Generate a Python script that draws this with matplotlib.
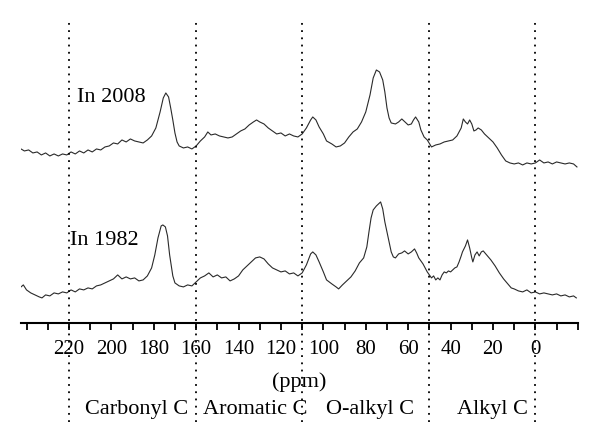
import numpy as np
import matplotlib
matplotlib.use("Agg")
import matplotlib.pyplot as plt

plt.rcParams['font.family'] = ['Liberation Serif', 'DejaVu Serif']

# spectrum: chemical shift (ppm) and signal (screen units, down = larger)
ppm_2008 = [242.6, 241, 239, 237, 235, 233, 231, 229, 227, 225, 223, 221, 219, 217, 215, 213, 211, 209, 207, 205,
            203, 201, 199, 197, 195, 193, 191, 189, 187, 185, 183, 181, 179, 177, 175.5, 174.3, 173, 172, 171, 170,
            169, 168, 166, 164, 162, 160, 158, 156, 154.5, 153, 151, 149, 147, 145, 143, 141, 139, 137, 135, 133,
            131.5, 130, 128, 126, 124, 122, 120, 118, 116, 114, 112, 110, 108, 106, 105, 103.5, 102, 100, 98.5, 96,
            94, 92, 90, 88, 86, 84, 82, 80, 78, 76.5, 75, 73.5, 72, 71, 70, 69, 68, 66, 64.5, 63,
            61.5, 60, 58.5, 57.5, 56.5, 55, 54, 52.5, 51, 49, 47, 45, 43, 41, 39, 37, 35, 34, 33, 32,
            31, 30, 29, 28, 27, 25.5, 24, 22, 20, 18, 16, 14, 12, 10, 8, 6, 4, 2, 0, -2,
            -4, -6, -8, -10, -12, -14, -16, -18, -19.6]
sig_2008 = [149, 151, 150, 153, 152, 155, 153, 156, 154, 156, 154, 155, 152, 154, 151, 153, 150, 152, 149, 150,
            147, 146, 143, 144, 140, 142, 139, 141, 142, 143, 140, 136, 128, 112, 98, 93, 97, 108, 120, 133,
            142, 146, 148, 147, 149, 146, 141, 137, 132, 135, 134, 136, 137, 138, 137, 134, 131, 129, 125, 122,
            120, 122, 124, 128, 131, 134, 133, 136, 134, 136, 137, 134, 128, 120, 117, 120, 127, 134, 141, 144,
            147, 146, 143, 137, 132, 129, 122, 112, 95, 78, 70, 72, 80, 92, 108, 118, 123, 124, 122, 119,
            122, 125, 124, 120, 117, 122, 130, 137, 140, 147, 145, 144, 142, 141, 140, 136, 128, 119, 122, 124,
            120, 124, 131, 130, 128, 130, 134, 138, 142, 148, 155, 161, 163, 164, 163, 165, 163, 164, 163, 160,
            163, 162, 164, 162, 163, 164, 163, 164, 167]

ppm_1982 = [242.6, 241.5, 240, 238, 236, 234, 232.7, 231, 229, 227, 225, 223, 221, 219, 217, 215, 213, 211, 209, 207,
            205, 203, 201, 199, 197, 195, 193, 191, 189, 187, 185, 183, 181, 179.5, 178, 176.5, 175.7, 174.5, 173.5, 172.5,
            171, 170, 168, 166, 164, 162, 160, 158, 156, 154, 152, 150, 148, 146, 144, 142, 140, 138, 136, 134,
            132, 130, 128, 126, 124, 122, 120, 118, 116, 114, 112, 110, 108, 106, 105, 103.5, 102, 100, 98.5, 96,
            94, 92.8, 91, 89, 87, 85, 83, 81, 79.5, 78.5, 77.5, 76.5, 75, 74, 73, 72, 71, 70, 69, 68,
            67, 66, 64.5, 63, 61.7, 60, 58.5, 57, 56, 55, 54, 53, 52, 51, 50, 49, 48, 47, 46, 45,
            44, 43, 42, 41, 40, 38, 37, 36, 35, 34.4, 33, 32, 31, 30, 29.5, 28.5, 27.5, 26.5, 25.5, 24.6,
            23, 21, 19, 17, 15, 13, 11.4, 10, 8, 6, 4, 2, 0, -2, -4, -6, -8, -10, -12, -14,
            -16, -18, -19.3]
sig_1982 = [287, 285, 290, 293, 295, 297, 298, 295, 296, 293, 294, 292, 293, 290, 292, 289, 290, 288, 289, 286,
            285, 283, 281, 279, 275, 279, 277, 279, 278, 281, 280, 276, 268, 255, 238, 226, 225, 227, 236, 255,
            276, 283, 286, 287, 285, 286, 282, 278, 276, 273, 277, 275, 278, 277, 281, 279, 276, 270, 266, 262,
            258, 257, 259, 264, 268, 270, 272, 271, 274, 273, 276, 273, 265, 254, 252, 255, 262, 272, 280, 284,
            287, 289, 285, 281, 277, 271, 263, 258, 247, 232, 218, 210, 206, 204, 202, 209, 222, 232, 242, 252,
            257, 258, 254, 253, 251, 254, 252, 249, 253, 258, 261, 264, 268, 272, 275, 278, 276, 280, 278, 280,
            275, 272, 273, 271, 272, 268, 267, 262, 256, 252, 246, 240, 248, 258, 262, 255, 252, 256, 252, 251,
            255, 260, 266, 273, 279, 284, 288, 289, 291, 292, 290, 293, 292, 294, 293, 294, 295, 294, 296, 295,
            297, 296, 298]

region_bounds = [220, 160, 110, 50, 0]
region_names = ['Carbonyl C', 'Aromatic C', 'O-alkyl C', 'Alkyl C']
region_centers = [188, 132, 78, 20]
trace_labels = ['In 2008', 'In 1982']

fig = plt.figure(figsize=(6, 4.46), dpi=100)
ax = fig.add_axes([0.035, 0.276, 0.928, 0.724])

ax.plot(ppm_2008, sig_2008, color='#2a2a2a', lw=0.8)
ax.plot(ppm_1982, sig_1982, color='#2a2a2a', lw=0.8)

ax.set_xlim(242.6, -20)
ax.set_ylim(323, 0)

for b in region_bounds:
    ax.axvline(b, ymin=-0.307, ymax=0.94, color='black', ls=(0, (1, 3)), lw=1.3, clip_on=False)

ax.text(216.2, 98, trace_labels[0], fontsize=16, va='center', ha='left')
ax.text(219.5, 241, trace_labels[1], fontsize=16, va='center', ha='left')

for name, c in zip(region_names, region_centers):
    ax.text(c, 410, name, fontsize=16, ha='center', va='center', clip_on=False)

for s in ['top', 'left', 'right']:
    ax.spines[s].set_visible(False)
ax.spines['bottom'].set_linewidth(1.5)
ax.set_yticks([])
ax.set_xticks(np.arange(-20, 241, 10), minor=True)
ax.set_xticks(np.arange(0, 221, 20))
ax.tick_params(axis='x', which='both', direction='out', length=5, width=1.3, labelsize=15, pad=7)
ax.set_xlabel('(ppm)', fontsize=16, labelpad=10)
ax.patch.set_visible(False)

fig.savefig('out.png', dpi=100)
